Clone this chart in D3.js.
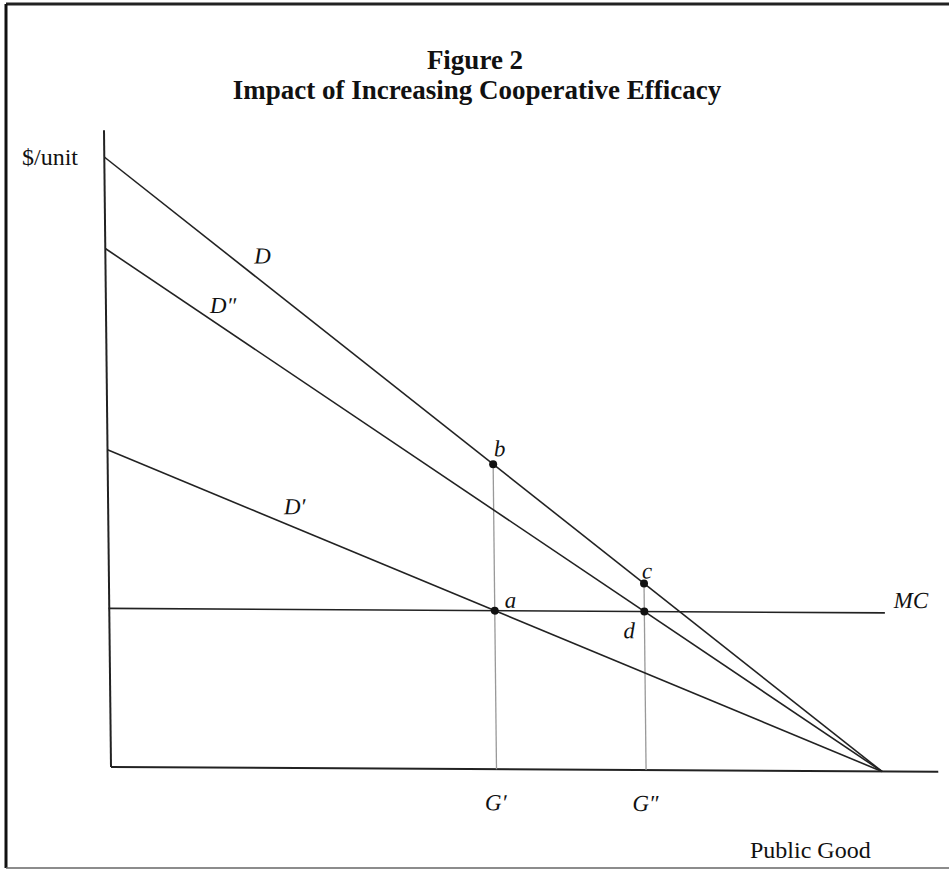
<!DOCTYPE html>
<html>
<head>
<meta charset="utf-8">
<script src="https://cdn.jsdelivr.net/npm/d3@7"></script>
<style>
  body { margin: 0; background: #fff; }
  text { font-family: "Liberation Serif", "DejaVu Serif", serif; fill: #111; }
</style>
</head>
<body>
<div id="figure"></div>
<script>
// Demand curves: price intercept at quantity 0, all reach zero at quantity 100
var curveNames = ["D", "D\u2033", "D\u2032"];
var curveIntercepts = [100, 85, 52];
var curveLabelQ = [19.3, 13.5, 22.8];

// Marginal cost (flat)
var mcPrice = 26;
var mcEndQ = 100.6;

// Equilibrium quantities
var qtyNames = ["G\u2032", "G\u2033"];
var qtyValues = [50, 69.4];

// Labelled points: name, curve index, quantity
var pointNames = ["b", "a", "c", "d"];
var pointCurves = [0, 2, 0, 1];
var pointQty = [50, 50, 69.4, 69.4];

function createFigure(){
	var width = 949;
	var height = 871;

	var svg = d3.select("#figure")
				.append("svg")
				.attr("width", width)
				.attr("height", height);

	// Frame (scanned page border)
	svg.append("line").attr("x1", 6).attr("y1", 4).attr("x2", 949).attr("y2", 4)
		.style("stroke", "#222").style("stroke-width", 3);
	svg.append("line").attr("x1", 6).attr("y1", 4).attr("x2", 6).attr("y2", 868)
		.style("stroke", "#111").style("stroke-width", 3);
	svg.append("line").attr("x1", 6).attr("y1", 868).attr("x2", 949).attr("y2", 868)
		.style("stroke", "#666").style("stroke-width", 1.5);

	// Title
	svg.append("text").attr("x", 475).attr("y", 69)
		.attr("text-anchor", "middle").style("font-weight", "bold").style("font-size", "27px")
		.text("Figure 2");
	svg.append("text").attr("x", 477).attr("y", 99)
		.attr("text-anchor", "middle").style("font-weight", "bold").style("font-size", "27px")
		.text("Impact of Increasing Cooperative Efficacy");

	// Scales
	var x = d3.scaleLinear().domain([0, 100]).range([111, 882]);
	var y = d3.scaleLinear().domain([0, 100]).range([767, 157]);

	// slight skew of the scanned drawing
	var k1 = 0.011, k2 = 0.0058;
	var g = svg.append("g")
		.attr("transform", "matrix(1," + k2 + "," + k1 + ",1," + (-k1 * 767) + "," + (-k2 * 111) + ")");

	function price(i, q){ return curveIntercepts[i] * (1 - q / 100); }

	// Axes
	g.append("line").attr("x1", x(0)).attr("y1", y(104.4)).attr("x2", x(0)).attr("y2", y(0))
		.style("stroke", "#222").style("stroke-width", 2);
	g.append("line").attr("x1", x(0)).attr("y1", y(0)).attr("x2", x(107.3)).attr("y2", y(0))
		.style("stroke", "#222").style("stroke-width", 2);

	// Drop lines from b and c to the quantity axis
	var drops = [0, 2];
	g.selectAll("line.drop")
		.data(drops)
		.enter()
		.append("line")
		.attr("class", "drop")
		.attr("x1", function(i){ return x(pointQty[i]); })
		.attr("y1", function(i){ return y(price(pointCurves[i], pointQty[i])); })
		.attr("x2", function(i){ return x(pointQty[i]); })
		.attr("y2", y(0))
		.style("stroke", "#999")
		.style("stroke-width", 1.3);

	// MC line
	g.append("line").attr("x1", x(-0.1)).attr("y1", y(mcPrice)).attr("x2", x(mcEndQ)).attr("y2", y(mcPrice))
		.style("stroke", "#222").style("stroke-width", 1.6);

	// Demand curves
	g.selectAll("line.demand")
		.data(curveIntercepts)
		.enter()
		.append("line")
		.attr("class", "demand")
		.attr("x1", x(0))
		.attr("y1", function(d){ return y(d); })
		.attr("x2", x(100))
		.attr("y2", y(0))
		.style("stroke", "#222")
		.style("stroke-width", 1.6);

	// Points
	g.selectAll("circle.pt")
		.data(pointNames)
		.enter()
		.append("circle")
		.attr("class", "pt")
		.attr("cx", function(d, i){ return x(pointQty[i]); })
		.attr("cy", function(d, i){ return y(price(pointCurves[i], pointQty[i])); })
		.attr("r", 4)
		.style("fill", "#111");

	// Point labels
	var pointOffsets = [[1, -8], [10, -3], [-2, -5], [-21, 27]];
	g.selectAll("text.pt")
		.data(pointNames)
		.enter()
		.append("text")
		.attr("class", "pt")
		.attr("x", function(d, i){ return x(pointQty[i]) + pointOffsets[i][0]; })
		.attr("y", function(d, i){ return y(price(pointCurves[i], pointQty[i])) + pointOffsets[i][1]; })
		.style("font-style", "italic")
		.style("font-size", "23px")
		.text(function(d){ return d; });

	// Curve labels
	var curveOffsets = [-12, -6, -9];
	g.selectAll("text.curve")
		.data(curveNames)
		.enter()
		.append("text")
		.attr("class", "curve")
		.attr("x", function(d, i){ return x(curveLabelQ[i]); })
		.attr("y", function(d, i){ return y(price(i, curveLabelQ[i])) + curveOffsets[i]; })
		.style("font-style", "italic")
		.style("font-size", "23px")
		.text(function(d){ return d; });

	g.append("text").attr("x", x(mcEndQ) + 9).attr("y", y(mcPrice) - 5)
		.style("font-style", "italic").style("font-size", "23px")
		.text("MC");

	// Quantity labels
	g.selectAll("text.qty")
		.data(qtyNames)
		.enter()
		.append("text")
		.attr("class", "qty")
		.attr("x", function(d, i){ return x(qtyValues[i]) - 1; })
		.attr("y", 808)
		.attr("text-anchor", "middle")
		.style("font-style", "italic")
		.style("font-size", "23px")
		.text(function(d){ return d; });

	// Axis titles
	svg.append("text").attr("x", 22).attr("y", 165).style("font-size", "24px").text("$/unit");
	svg.append("text").attr("x", 750).attr("y", 858).style("font-size", "24px").text("Public Good");
}

createFigure();
</script>
</body>
</html>
